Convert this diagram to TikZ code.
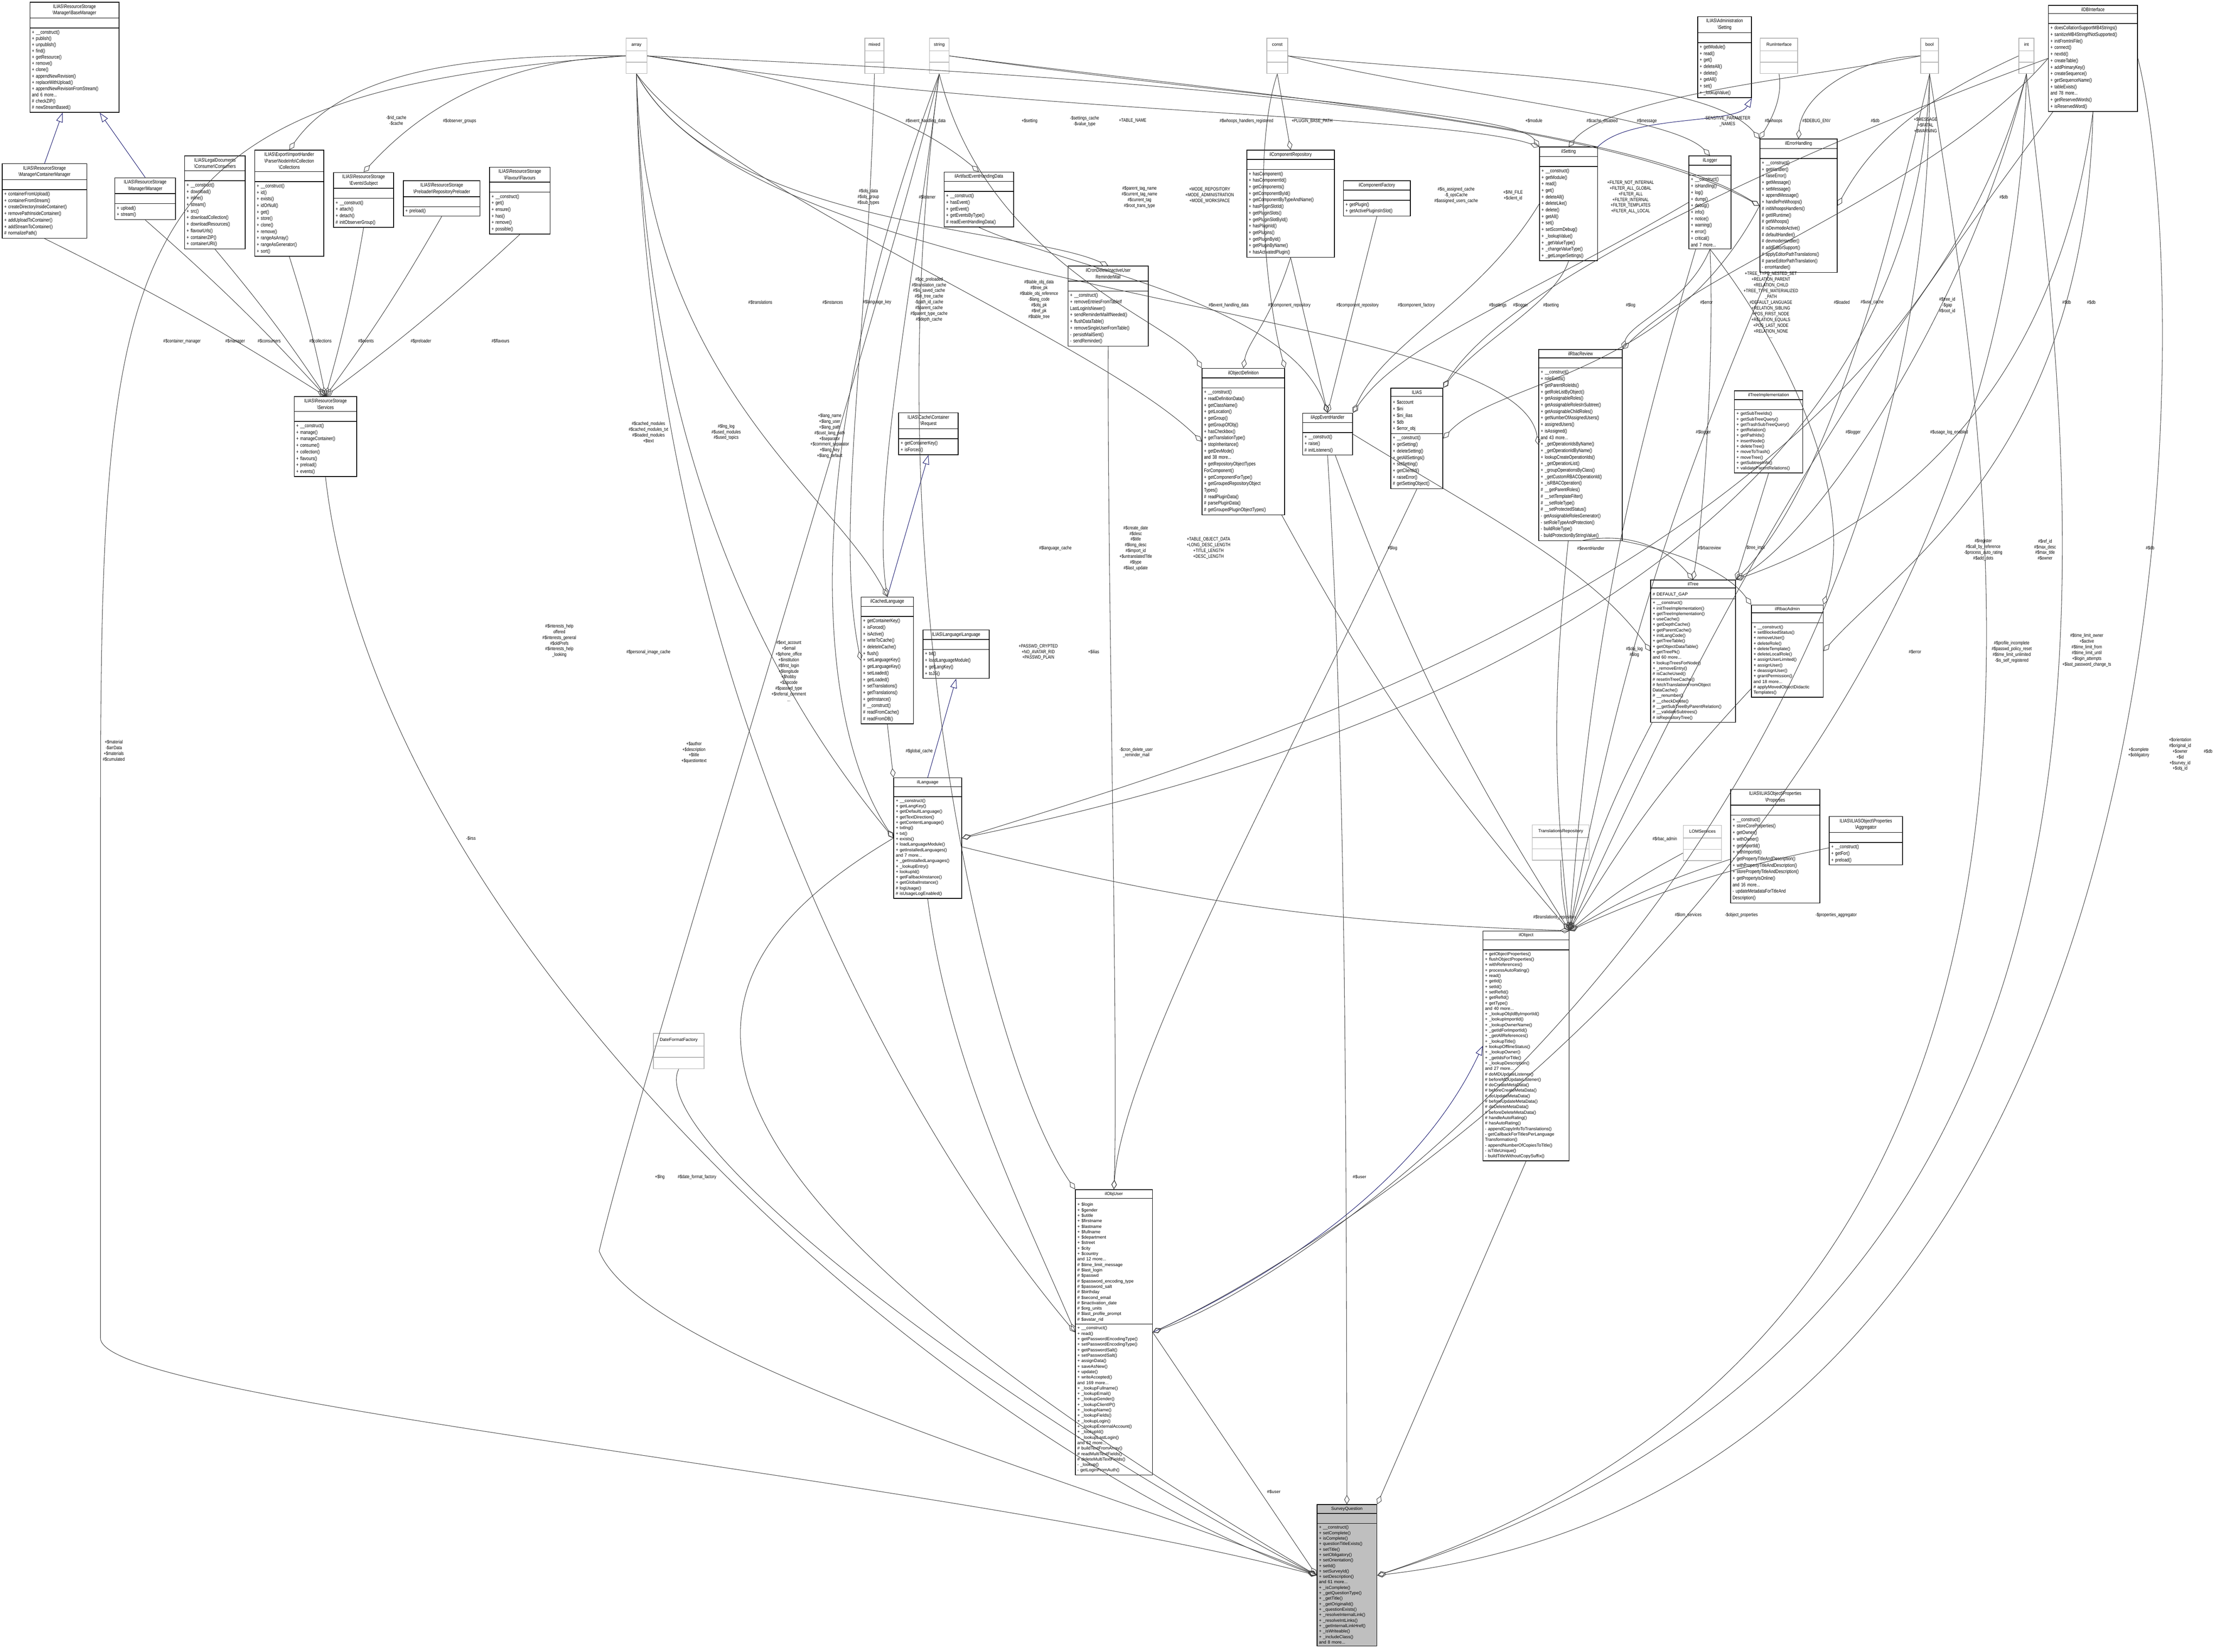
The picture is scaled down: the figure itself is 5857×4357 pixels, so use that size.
\documentclass[tikz,border=0pt]{standalone}
\usepackage{fontspec}
\setmainfont{Liberation Sans}
\newfontfamily\condf[FakeStretch=0.8]{Liberation Sans}
\usetikzlibrary{shapes.multipart,arrows.meta}
\definecolor{edgec}{HTML}{404040}
\definecolor{inhc}{HTML}{191970}
\tikzset{
 clsbox/.style={draw=black,line width=0.5pt,rectangle split,rectangle split parts=3,anchor=north west,inner sep=1.5pt,align=left,font=\fontsize{3.3}{4.1}\selectfont},
 typbox/.style={draw=black!30,line width=0.5pt,rectangle split,rectangle split parts=3,anchor=north west,inner sep=1.5pt,align=center,font=\fontsize{3.3}{4.1}\selectfont},
 agg/.style={draw=edgec,line width=0.35pt,-{Diamond[open,length=7pt,width=4pt]}},
 inh/.style={draw=inhc,line width=0.35pt,-{Triangle[open,length=7pt,width=5pt]}},
 lbl/.style={align=center,inner sep=0pt,font=\fontsize{3.3}{4.1}\selectfont},
 clbl/.style={align=center,inner sep=0pt,font=\condf\fontsize{3.6}{4.3}\selectfont}
}
\newcommand\cls[7][]{\pgfmathsetlengthmacro\tw{#4*0.01cm-3pt}%
 \node[clsbox,text width=\tw,#1] (#2) at (#3) {{\centering #5\par}\nodepart{two}\rule{0pt}{4pt}#6\nodepart{three}#7};}
\newcommand\typ[4]{\pgfmathsetlengthmacro\tw{#3*0.01cm-3pt}%
 \node[typbox,text width=\tw] (#1) at (#2) {#4\rule[-2pt]{0pt}{6pt}\nodepart{two}\rule{0pt}{5pt}\nodepart{three}\rule{0pt}{5pt}};}
\begin{document}
\begin{tikzpicture}[x=0.01cm,y=-0.01cm]
\useasboundingbox (0,0) rectangle (5857,4357);
\fill[white] (0,0) rectangle (5857,4357);
% ---------- top row
\cls[font=\condf\fontsize{3.8}{4.7}\selectfont]{bm}{78,5}{235}{ILIAS\textbackslash ResourceStorage\\\textbackslash Manager\textbackslash BaseManager}{}{+ \_\_construct()\\+ publish()\\+ unpublish()\\+ find()\\+ getResource()\\+ remove()\\+ clone()\\+ appendNewRevision()\\+ replaceWithUpload()\\+ appendNewRevisionFromStream()\\and 6 more...\\\# checkZIP()\\\# newStreamBased()}
\cls[font=\condf\fontsize{3.8}{4.9}\selectfont]{cm}{5,431}{223}{ILIAS\textbackslash ResourceStorage\\\textbackslash Manager\textbackslash ContainerManager}{}{+ containerFromUpload()\\+ containerFromStream()\\+ createDirectoryInsideContainer()\\+ removePathInsideContainer()\\+ addUploadToContainer()\\+ addStreamToContainer()\\\# normalizePath()}
\cls[font=\condf\fontsize{3.8}{4.9}\selectfont]{mgr}{302,468}{160}{ILIAS\textbackslash ResourceStorage\\\textbackslash Manager\textbackslash Manager}{}{+ upload()\\+ stream()}
\cls[font=\condf\fontsize{3.8}{4.9}\selectfont]{cons}{486,410}{160}{ILIAS\textbackslash LegalDocuments\\\textbackslash Consumer\textbackslash Consumers}{}{+ \_\_construct()\\+ download()\\+ inline()\\+ stream()\\+ src()\\+ downloadCollection()\\+ downloadResources()\\+ flavourUrls()\\+ containerZIP()\\+ containerURI()}
\cls[font=\condf\fontsize{3.8}{4.9}\selectfont]{coll}{671,395}{182}{ILIAS\textbackslash Export\textbackslash ImportHandler\\\textbackslash Parser\textbackslash NodeInfo\textbackslash Collection\\\textbackslash Collections}{}{+ \_\_construct()\\+ id()\\+ exists()\\+ idOrNull()\\+ get()\\+ store()\\+ clone()\\+ remove()\\+ rangeAsArray()\\+ rangeAsGenerator()\\+ sort()}
\cls[font=\condf\fontsize{3.8}{4.9}\selectfont]{subj}{879,454}{158}{ILIAS\textbackslash ResourceStorage\\\textbackslash Events\textbackslash Subject}{}{+ \_\_construct()\\+ attach()\\+ detach()\\\# initObserverGroup()}
\cls[font=\condf\fontsize{3.8}{4.9}\selectfont]{prel}{1063,476}{202}{ILIAS\textbackslash ResourceStorage\\\textbackslash Preloader\textbackslash RepositoryPreloader}{}{+ preload()}
\cls[font=\condf\fontsize{3.8}{4.9}\selectfont]{flav}{1290,440}{160}{ILIAS\textbackslash ResourceStorage\\\textbackslash Flavour\textbackslash Flavours}{}{+ \_\_construct()\\+ get()\\+ ensure()\\+ has()\\+ remove()\\+ possible()}
\cls[font=\condf\fontsize{3.8}{4.9}\selectfont]{svc}{775,1045}{165}{ILIAS\textbackslash ResourceStorage\\\textbackslash Services}{}{+ \_\_construct()\\+ manage()\\+ manageContainer()\\+ consume()\\+ collection()\\+ flavours()\\+ preload()\\+ events()}
\typ{arr}{1650,100}{55}{array}
\typ{mix}{2280,100}{50}{mixed}
\typ{str}{2450,100}{52}{string}
\typ{cst}{3340,100}{55}{const}
\typ{run}{4641,100}{99}{RunInterface}
\typ{bool}{5064,100}{47}{bool}
\typ{int}{5323,100}{40}{int}
\cls[font=\condf\fontsize{3.8}{4.9}\selectfont]{adms}{4476,43}{142}{ILIAS\textbackslash Administration\\\textbackslash Setting}{}{+ getModule()\\+ read()\\+ get()\\+ deleteAll()\\+ delete()\\+ getAll()\\+ set()\\+ \_lookupValue()}
\cls[font=\condf\fontsize{3.8}{4.9}\selectfont]{dbi}{5401,13}{235}{ilDBInterface}{}{+ doesCollationSupportMB4Strings()\\+ sanitizeMB4StringIfNotSupported()\\+ initFromIniFile()\\+ connect()\\+ nextId()\\+ createTable()\\+ addPrimaryKey()\\+ createSequence()\\+ getSequenceName()\\+ tableExists()\\and 78 more...\\+ getReservedWords()\\+ isReservedWord()}
\cls[font=\condf\fontsize{3.8}{4.9}\selectfont]{errh}{4640,366}{204}{ilErrorHandling}{}{+ \_\_construct()\\+ getHandler()\\+ raiseError()\\+ getMessage()\\+ setMessage()\\+ appendMessage()\\+ handlePreWhoops()\\\# initWhoopsHandlers()\\\# getIlRuntime()\\\# getWhoops()\\\# isDevmodeActive()\\\# defaultHandler()\\\# devmodeHandler()\\\# addEditorSupport()\\\# applyEditorPathTranslations()\\\# parseEditorPathTranslation()\\- errorHandler()}
\cls[font=\condf\fontsize{3.8}{4.9}\selectfont]{log}{4453,410}{111}{ilLogger}{}{+ \_\_construct()\\+ isHandling()\\+ log()\\+ dump()\\+ debug()\\+ info()\\+ notice()\\+ warning()\\+ error()\\+ critical()\\and 7 more...}
\cls[font=\condf\fontsize{3.8}{4.9}\selectfont]{ilset}{4059,387}{153}{ilSetting}{}{+ \_\_construct()\\+ getModule()\\+ read()\\+ get()\\+ deleteAll()\\+ deleteLike()\\+ delete()\\+ getAll()\\+ set()\\+ setScormDebug()\\+ \_lookupValue()\\+ \_getValueType()\\+ \_changeValueType()\\+ \_getLongerSettings()}
\cls[font=\condf\fontsize{3.8}{4.9}\selectfont]{crep}{3287,395}{231}{ilComponentRepository}{}{+ hasComponent()\\+ hasComponentId()\\+ getComponents()\\+ getComponentById()\\+ getComponentByTypeAndName()\\+ hasPluginSlotId()\\+ getPluginSlots()\\+ getPluginSlotById()\\+ hasPluginId()\\+ getPlugins()\\+ getPluginById()\\+ getPluginByName()\\+ hasActivatedPlugin()}
\cls[font=\condf\fontsize{3.8}{4.9}\selectfont]{cfac}{3542,476}{176}{ilComponentFactory}{}{+ getPlugin()\\+ getActivePluginsInSlot()}
\cls[font=\condf\fontsize{3.8}{4.9}\selectfont]{art}{2489,453}{183}{ilArtifactEventHandingData}{}{+ \_\_construct()\\+ hasEvent()\\+ getEvent()\\+ getEventsByType()\\\# readEventHandlingData()}
\cls[font=\condf\fontsize{3.8}{4.9}\selectfont]{cron}{2816,701}{211}{ilCronDeleteInactiveUser\\ReminderMail}{}{+ \_\_construct()\\+ removeEntriesFromTableIf\\LastLoginIsNewer()\\+ sendReminderMailIfNeeded()\\+ flushDataTable()\\+ removeSingleUserFromTable()\\- persistMailSent()\\- sendReminder()}
\cls[font=\condf\fontsize{3.8}{4.9}\selectfont]{odef}{3169,971}{218}{ilObjectDefinition}{}{+ \_\_construct()\\+ readDefinitionData()\\+ getClassName()\\+ getLocation()\\+ getGroup()\\+ getGroupOfObj()\\+ hasCheckbox()\\+ getTranslationType()\\+ stopInheritance()\\+ getDevMode()\\and 38 more...\\+ getRepositoryObjectTypes\\ForComponent()\\+ getComponentForType()\\+ getGroupedRepositoryObject\\Types()\\\# readPluginData()\\\# parsePluginData()\\\# getGroupedPluginObjectTypes()}
\cls[font=\condf\fontsize{3.8}{4.9}\selectfont]{aeh}{3434,1089}{132}{ilAppEventHandler}{}{+ \_\_construct()\\+ raise()\\\# initListeners()}
\cls[font=\condf\fontsize{3.8}{4.9}\selectfont]{ilias}{3667,1023}{137}{ILIAS}{+ \$account\\+ \$ini\\+ \$ini\_ilias\\+ \$db\\+ \$error\_obj}{+ \_\_construct()\\+ getSetting()\\+ deleteSetting()\\+ getAllSettings()\\+ setSetting()\\+ getClientId()\\+ raiseError()\\\# getSettingObject()}
\cls[font=\condf\fontsize{3.8}{4.9}\selectfont]{rrev}{4057,921}{220}{ilRbacReview}{}{+ \_\_construct()\\+ roleExists()\\+ getParentRoleIds()\\+ getRoleListByObject()\\+ getAssignableRoles()\\+ getAssignableRolesInSubtree()\\+ getAssignableChildRoles()\\+ getNumberOfAssignedUsers()\\+ assignedUsers()\\+ isAssigned()\\and 43 more...\\+ \_getOperationIdsByName()\\+ \_getOperationIdByName()\\+ lookupCreateOperationIds()\\+ \_getOperationList()\\+ \_groupOperationsByClass()\\+ \_getCustomRBACOperationId()\\+ \_isRBACOperation()\\\# \_\_getParentRoles()\\\# \_\_setTemplateFilter()\\\# \_\_setRoleType()\\\# \_\_setProtectedStatus()\\- getAssignableRolesGenerator()\\- setRoleTypeAndProtection()\\- buildRoleType()\\- buildProtectionByStringValue()}
\cls{timpl}{4573,1030}{180}{ilTreeImplementation}{}{+ getSubTreeIds()\\+ getSubTreeQuery()\\+ getTrashSubTreeQuery()\\+ getRelation()\\+ getPathIds()\\+ insertNode()\\+ deleteTree()\\+ moveToTrash()\\+ moveTree()\\+ getSubtreeInfo()\\+ validateParentRelations()}
\cls{tree}{4352,1529}{224}{ilTree}{\# DEFAULT\_GAP}{+ \_\_construct()\\+ initTreeImplementation()\\+ getTreeImplementation()\\+ useCache()\\+ getDepthCache()\\+ getParentCache()\\+ initLangCode()\\+ getTreeTable()\\+ getObjectDataTable()\\+ getTreePk()\\and 60 more...\\+ lookupTreesForNode()\\+ \_removeEntry()\\\# isCacheUsed()\\\# resetInTreeCache()\\\# fetchTranslationFromObject\\DataCache()\\\# \_\_renumber()\\\# \_\_checkDelete()\\\# \_\_getSubTreeByParentRelation()\\\# \_\_validateSubtrees()\\\# isRepositoryTree()}
\cls{radm}{4618,1595}{189}{ilRbacAdmin}{}{+ \_\_construct()\\+ setBlockedStatus()\\+ removeUser()\\+ deleteRole()\\+ deleteTemplate()\\+ deleteLocalRole()\\+ assignUserLimited()\\+ assignUser()\\+ deassignUser()\\+ grantPermission()\\and 18 more...\\\# applyMovedObjectDidactic\\Templates()}
\cls[font=\condf\fontsize{3.8}{4.9}\selectfont]{req}{2369,1088}{157}{ILIAS\textbackslash Cache\textbackslash Container\\\textbackslash Request}{}{+ getContainerKey()\\+ isForced()}
\cls[font=\condf\fontsize{3.8}{4.9}\selectfont]{clang}{2270,1574}{138}{ilCachedLanguage}{}{+ getContainerKey()\\+ isForced()\\+ isActive()\\+ writeToCache()\\+ deleteInCache()\\+ flush()\\+ setLanguageKey()\\+ getLanguageKey()\\+ setLoaded()\\+ getLoaded()\\+ setTranslations()\\+ getTranslations()\\+ getInstance()\\\# \_\_construct()\\\# readFromCache()\\\# readFromDB()}
\cls[font=\condf\fontsize{3.8}{4.9}\selectfont]{llang}{2433,1661}{175}{ILIAS\textbackslash Language\textbackslash Language}{}{+ txt()\\+ loadLanguageModule()\\+ getLangKey()\\+ toJS()}
\cls{ilang}{2356,2051}{179}{ilLanguage}{}{+ \_\_construct()\\+ getLangKey()\\+ getDefaultLanguage()\\+ getTextDirection()\\+ getContentLanguage()\\+ txtlng()\\+ txt()\\+ exists()\\+ loadLanguageModule()\\+ getInstalledLanguages()\\and 7 more...\\+ \_getInstalledLanguages()\\+ \_lookupEntry()\\+ lookupId()\\+ getFallbackInstance()\\+ getGlobalInstance()\\\# logUsage()\\\# isUsageLogEnabled()}
\cls[font=\condf\fontsize{3.8}{4.9}\selectfont]{props}{4563,2081}{235}{ILIAS\textbackslash ILIASObject\textbackslash Properties\\\textbackslash Properties}{}{+ \_\_construct()\\+ storeCoreProperties()\\+ getOwner()\\+ withOwner()\\+ getImportId()\\+ withImportId()\\+ getPropertyTitleAndDescription()\\+ withPropertyTitleAndDescription()\\+ storePropertyTitleAndDescription()\\+ getPropertyIsOnline()\\and 16 more...\\- updateMetadataForTitleAnd\\Description()}
\cls[font=\condf\fontsize{3.8}{4.9}\selectfont]{aggr}{4823,2153}{193}{ILIAS\textbackslash ILIASObject\textbackslash Properties\\\textbackslash Aggregator}{}{+ \_\_construct()\\+ getFor()\\+ preload()}
\typ{lom}{4438,2176}{101}{LOMServices}
\typ{trans}{4040,2175}{150}{TranslationsRepository}
\typ{dff}{1722,2725}{134}{DateFormatFactory}
\cls{obj}{3910,2455}{227}{ilObject}{}{+ getObjectProperties()\\+ flushObjectProperties()\\+ withReferences()\\+ processAutoRating()\\+ read()\\+ getId()\\+ setId()\\+ setRefId()\\+ getRefId()\\+ getType()\\and 40 more...\\+ \_lookupObjIdByImportId()\\+ \_lookupImportId()\\+ \_lookupOwnerName()\\+ \_getIdForImportId()\\+ \_getAllReferences()\\+ \_lookupTitle()\\+ lookupOfflineStatus()\\+ \_lookupOwner()\\+ \_getIdsForTitle()\\+ \_lookupDescription()\\and 27 more...\\\# doMDUpdateListener()\\\# beforeMDUpdateListener()\\\# doCreateMetaData()\\\# beforeCreateMetaData()\\\# doUpdateMetaData()\\\# beforeUpdateMetaData()\\\# doDeleteMetaData()\\\# beforeDeleteMetaData()\\\# handleAutoRating()\\\# hasAutoRating()\\- appendCopyInfoToTranslations()\\- getCallbackForTitlesPerLanguage\\Transformation()\\- appendNumberOfCopiesToTitle()\\- isTitleUnique()\\- buildTitleWithoutCopySuffix()}
\cls{ouser}{2835,3137}{203}{ilObjUser}{+ \$login\\+ \$gender\\+ \$utitle\\+ \$firstname\\+ \$lastname\\+ \$fullname\\+ \$department\\+ \$street\\+ \$city\\+ \$country\\and 12 more...\\\# \$time\_limit\_message\\\# \$last\_login\\\# \$passwd\\\# \$password\_encoding\_type\\\# \$password\_salt\\\# \$birthday\\\# \$second\_email\\\# \$inactivation\_date\\\# \$org\_units\\\# \$last\_profile\_prompt\\\# \$avatar\_rid}{+ \_\_construct()\\+ read()\\+ getPasswordEncodingType()\\+ setPasswordEncodingType()\\+ getPasswordSalt()\\+ setPasswordSalt()\\+ assignData()\\+ saveAsNew()\\+ update()\\+ writeAccepted()\\and 169 more...\\+ \_lookupFullname()\\+ \_lookupEmail()\\+ \_lookupGender()\\+ \_lookupClientIP()\\+ \_lookupName()\\+ \_lookupFields()\\+ \_lookupLogin()\\+ \_lookupExternalAccount()\\+ \_lookupId()\\+ \_lookupLastLogin()\\and 62 more...\\\# buildTextFromArray()\\\# readMultiTextFields()\\\# deleteMultiTextFields()\\- \_lookup()\\- getLoginFromAuth()}
\cls[fill=black!25]{sq}{3472,3968}{158}{SurveyQuestion}{}{+ \_\_construct()\\+ setComplete()\\+ isComplete()\\+ questionTitleExists()\\+ setTitle()\\+ setObligatory()\\+ setOrientation()\\+ setId()\\+ setSurveyId()\\+ setDescription()\\and 61 more...\\+ \_isComplete()\\+ \_getQuestionType()\\+ \_getTitle()\\+ \_getOriginalId()\\+ \_questionExists()\\+ \_resolveInternalLink()\\+ \_resolveIntLinks()\\+ \_getInternalLinkHref()\\+ \_isWriteable()\\+ \_includeClass()\\and 8 more...}
% ---------- inheritance
\draw[inh] (cm.north) -- (bm.south -| 165,0);
\draw[inh] (mgr.north) -- (bm.south -| 263,0);
\draw[inh] (ilset.north east) .. controls (4300,300) and (4580,330) .. (adms.south east);
\draw[inh] (clang.north) -- (req.south);
\draw[inh] (ilang.north) -- (llang.south);
\draw[inh] (ouser.east) .. controls (3400,3350) and (3750,3100) .. (obj.west);
% ---------- aggregations to Services
\foreach \s in {cm,mgr,cons,coll,subj,prel,flav} \draw[agg] (\s.south) to[bend left=3] (svc.north);
\draw[agg] (arr.west) .. controls (1200,140) and (900,200) .. (coll.north);
\draw[agg] (arr.west) .. controls (1300,160) and (1100,300) .. (subj.north);
% ---------- to SurveyQuestion
\draw[agg] (arr.west) .. controls (300,250) and (265,600) .. (265,2200) -- (265,3530) .. controls (270,3700) and (2500,3900) .. (sq.west);
\draw[agg] (svc.south) .. controls (1000,2500) and (2500,3800) .. (sq.west);
\draw[agg] (str.south) .. controls (2300,900) and (1700,2800) .. (1580,3300) .. controls (1700,3600) and (3000,3950) .. (sq.west);
\draw[agg] (ilang.west) .. controls (1700,2600) and (1700,3100) .. (sq.west);
\draw[agg] (dff.south) .. controls (1700,3000) and (2600,3700) .. (sq.west);
\draw[agg] (ouser.east) -- (sq.west);
\draw[agg] (aeh.south) .. controls (3550,2000) and (3550,3000) .. (sq.north);
\draw[agg] (dbi.east) .. controls (5800,800) and (5820,3900) .. (sq.east);
\draw[agg] (bool.south) .. controls (5300,1500) and (5580,3500) .. (sq.east);
\draw[agg] (int.south) .. controls (5500,1500) and (5720,3500) .. (sq.east);
\draw[agg] (obj.south) -- (sq.north east);
% ---------- to ilObject
\foreach \s in {tree,radm,props,aggr,lom,trans,odef,aeh,log,ilang,errh,dbi,rrev} \draw[agg] (\s) to[bend right=6] (obj.north east);
% ---------- to ilObjUser
\draw[agg] (cron.south) .. controls (2920,1500) and (2950,2800) .. (ouser.north);
\draw[agg] (ilias.south) .. controls (3400,2000) and (2960,2800) .. (ouser.north);
\draw[agg] (str.south) .. controls (2300,1500) and (2600,2800) .. (ouser.north west);
\draw[agg] (arr.south) .. controls (1700,1800) and (2400,3000) .. (ouser.west);
\draw[agg] (ilang.south) .. controls (2500,2800) and (2700,3200) .. (ouser.west);
\draw[agg] (int.south) .. controls (5300,2200) and (3500,3300) .. (ouser.east);
\draw[agg] (bool.south) .. controls (5100,2200) and (3500,3350) .. (ouser.east);
% ---------- to ilTree
\draw[agg] (timpl.south) -- (tree.north east);
\draw[agg] (rrev.south) .. controls (4300,1400) and (4400,1450) .. (tree.north);
\draw[agg] (log.south) .. controls (4520,900) and (4500,1300) .. (tree.north);
\draw[agg] (dbi.south) .. controls (5400,1200) and (4800,1450) .. (tree.north east);
\draw[agg] (aeh.east) .. controls (3900,1350) and (4200,1500) .. (tree.west);
\draw[agg] (int.south) .. controls (5200,800) and (4800,1400) .. (tree.north east);
\draw[agg] (bool.south) .. controls (4950,800) and (4800,1300) .. (tree.north east);
% ---------- to ilRbacAdmin
\draw[agg] (log.south) .. controls (4700,900) and (4900,1300) .. (radm.north east);
\draw[agg] (rrev.south east) .. controls (4400,1450) and (4550,1500) .. (radm.north west);
\draw[agg] (dbi.south) .. controls (5500,1200) and (5000,1500) .. (radm.east);
% ---------- ILIAS
\draw[agg] (ilset.south) .. controls (4100,800) and (3900,900) .. (ilias.north east);
\draw[agg] (dbi.west) .. controls (5000,300) and (4000,700) .. (ilias.north east);
\draw[agg] (errh.west) .. controls (4400,1000) and (3950,1000) .. (ilias.east);
% ---------- AppEventHandler
\draw[agg] (crep.south) -- (aeh.north);
\draw[agg] (cfac.south) -- (aeh.north);
\draw[agg] (art.south) .. controls (2800,700) and (3400,800) .. (aeh.north);
\draw[agg] (log.west) .. controls (4000,800) and (3700,900) .. (aeh.north east);
\draw[agg] (ilset.west) .. controls (3900,800) and (3650,900) .. (aeh.north east);
% ---------- ilObjectDefinition
\draw[agg] (crep.south) .. controls (3350,850) and (3290,900) .. (odef.north);
\draw[agg] (arr.south) .. controls (1900,500) and (2900,900) .. (odef.west);
\draw[agg] (str.south) .. controls (2600,700) and (3100,850) .. (odef.north west);
\draw[agg] (cst.south) .. controls (3300,400) and (3340,800) .. (odef.north east);
% ---------- top types to classes
\draw[agg] (cst.south) -- (crep.north);
\draw[agg] (cst.east) .. controls (3900,200) and (4500,200) .. (errh.north west);
\draw[agg] (run.south) .. controls (4700,250) and (4680,300) .. (errh.north west);
\draw[agg] (bool.west) .. controls (4900,150) and (4750,250) .. (errh.north);
\draw[agg] (int.west) .. controls (5100,250) and (4950,350) .. (errh.east);
\draw[agg] (arr.east) .. controls (3000,200) and (4200,300) .. (errh.west);
\draw[agg] (str.east) .. controls (3300,250) and (4300,330) .. (errh.west);
\draw[agg] (str.east) .. controls (3300,260) and (4000,300) .. (ilset.north west);
\draw[agg] (bool.west) .. controls (4800,200) and (4250,250) .. (ilset.north);
\draw[agg] (arr.east) .. controls (2600,300) and (3800,300) .. (ilset.north west);
\draw[agg] (cst.east) .. controls (3800,250) and (4400,300) .. (log.north);
\draw[agg] (arr.east) .. controls (2100,200) and (2400,300) .. (art.north);
\draw[agg] (arr.south) .. controls (1900,600) and (2700,600) .. (cron.north);
\draw[agg] (arr.south) .. controls (2000,800) and (4000,800) .. (rrev.west);
\draw[agg] (dbi.west) .. controls (5100,500) and (4500,700) .. (rrev.north east);
\draw[agg] (log.south) .. controls (4450,800) and (4300,850) .. (rrev.north east);
% ---------- language
\draw[agg] (arr.south) .. controls (1700,1000) and (2200,1300) .. (clang.north);
\draw[agg] (str.south) .. controls (2400,800) and (2300,1300) .. (clang.north);
\draw[agg] (mix.south) .. controls (2290,900) and (2200,1400) .. (clang.west);
\draw[agg] (clang.south) -- (ilang.north west);
\draw[agg] (arr.south) .. controls (1700,1300) and (2100,1900) .. (ilang.west);
\draw[agg] (str.south) .. controls (2100,1200) and (2150,1900) .. (ilang.west);
\draw[agg] (int.south) .. controls (5000,1500) and (3200,2000) .. (ilang.east);
\draw[agg] (bool.south) .. controls (5050,1600) and (3300,2050) .. (ilang.east);
% ---------- labels
\node[clbl] at (1045,318) {-\$rid\_cache\\-\$cache};
\node[clbl] at (1212,319) {\#\$observer\_groups};
\node[clbl] at (480,900) {\#\$container\_manager};
\node[clbl] at (620,900) {\#\$manager};
\node[clbl] at (710,900) {\#\$consumers};
\node[clbl] at (845,900) {\#\$collections};
\node[clbl] at (965,900) {\#\$events};
\node[clbl] at (1110,900) {\#\$preloader};
\node[clbl] at (1320,900) {\#\$flavours};
\node[clbl] at (2441,319) {\#\$event\_handling\_data};
\node[clbl] at (2715,319) {+\$setting};
\node[clbl] at (2860,320) {-\$settings\_cache\\-\$value\_type};
\node[clbl] at (2987,319) {+TABLE\_NAME};
\node[clbl] at (3287,319) {\#\$whoops\_handlers\_registered};
\node[clbl] at (3460,319) {+PLUGIN\_BASE\_PATH};
\node[clbl] at (4045,319) {+\$module};
\node[clbl] at (4225,319) {\#\$cache\_disabled};
\node[clbl] at (4343,319) {\#\$message};
\node[clbl] at (4555,320) {-SENSTIVE\_PARAMETER\\\_NAMES};
\node[clbl] at (4677,319) {\#\$whoops};
\node[clbl] at (4790,319) {\#\$DEBUG\_ENV};
\node[clbl] at (4945,319) {\#\$db};
\node[clbl] at (5078,330) {+\$MESSAGE\\+\$FATAL\\+\$WARNING};
\node[clbl] at (5284,520) {\#\$db};
\node[clbl] at (2290,520) {\#\$obj\_data\\\#\$obj\_group\\\#\$sub\_types};
\node[clbl] at (2445,520) {\#\$listener};
\node[clbl] at (3005,520) {\#\$parent\_tag\_name\\\#\$current\_tag\_name\\\#\$current\_tag\\\#\$root\_trans\_type};
\node[clbl] at (3190,515) {+MODE\_REPOSITORY\\+MODE\_ADMINISTRATION\\+MODE\_WORKSPACE};
\node[clbl] at (3840,515) {\#\$is\_assigned\_cache\\-\$\_opsCache\\\#\$assigned\_users\_cache};
\node[clbl] at (3990,515) {+\$INI\_FILE\\+\$client\_id};
\node[clbl] at (4300,520) {+FILTER\_NOT\_INTERNAL\\+FILTER\_ALL\_GLOBAL\\+FILTER\_ALL\\+FILTER\_INTERNAL\\+FILTER\_TEMPLATES\\+FILTER\_ALL\_LOCAL};
\node[clbl] at (2005,797) {\#\$translations};
\node[clbl] at (2196,797) {\#\$instances};
\node[clbl] at (2313,797) {\#\$language\_key};
\node[clbl] at (2450,790) {\#\$pc\_preloaded\\\#\$translation\_cache\\\#\$is\_saved\_cache\\\#\$in\_tree\_cache\\-\$path\_id\_cache\\\#\$parent\_cache\\\#\$parent\_type\_cache\\\#\$depth\_cache};
\node[clbl] at (2740,790) {\#\$table\_obj\_data\\\#\$tree\_pk\\\#\$table\_obj\_reference\\-\$lang\_code\\\#\$obj\_pk\\\#\$ref\_pk\\\#\$table\_tree};
\node[clbl] at (3240,805) {\#\$event\_handling\_data};
\node[clbl] at (3400,805) {\#\$component\_repository};
\node[clbl] at (3580,805) {\#\$component\_repository};
\node[clbl] at (3735,805) {\#\$component\_factory};
\node[clbl] at (3950,805) {\#\$settings};
\node[clbl] at (4010,805) {\#\$logger};
\node[clbl] at (4090,805) {\#\$setting};
\node[clbl] at (4300,805) {\#\$log};
\node[clbl] at (4500,797) {\#\$error};
\node[clbl] at (4670,805) {+TREE\_TYPE\_NESTED\_SET\\+RELATION\_PARENT\\+RELATION\_CHILD\\+TREE\_TYPE\_MATERIALIZED\\\_PATH\\\#DEFAULT\_LANGUAGE\\+RELATION\_SIBLING\\+POS\_FIRST\_NODE\\+RELATION\_EQUALS\\+POS\_LAST\_NODE\\+RELATION\_NONE\\...};
\node[clbl] at (4857,797) {\#\$loaded};
\node[clbl] at (4937,797) {\#\$use\_cache};
\node[clbl] at (5135,805) {\#\$tree\_id\\-\$gap\\\#\$root\_id};
\node[clbl] at (5450,797) {\#\$db};
\node[clbl] at (5515,797) {\#\$db};
\node[clbl] at (1710,1140) {\#\$cached\_modules\\\#\$cached\_modules\_txt\\\#\$loaded\_modules\\+\$text};
\node[clbl] at (1915,1140) {\#\$lng\_log\\\#\$used\_modules\\\#\$used\_topics};
\node[clbl] at (2188,1150) {+\$lang\_name\\+\$lang\_user\\+\$lang\_path\\\#\$cust\_lang\_path\\+\$separator\\+\$comment\_separator\\+\$lang\_key\\+\$lang\_default};
\node[clbl] at (4492,1140) {\#\$logger};
\node[clbl] at (4887,1140) {\#\$logger};
\node[clbl] at (5140,1140) {\#\$usage\_log\_enabled};
\node[clbl] at (2995,1446) {\#\$create\_date\\\#\$desc\\\#\$title\\\#\$long\_desc\\\#\$import\_id\\+\$untranslatedTitle\\\#\$type\\\#\$last\_update};
\node[clbl] at (3187,1446) {+TABLE\_OBJECT\_DATA\\+LONG\_DESC\_LENGTH\\+TITLE\_LENGTH\\+DESC\_LENGTH};
\node[clbl] at (2783,1446) {\#\$language\_cache};
\node[clbl] at (3672,1446) {\#\$log};
\node[clbl] at (4195,1446) {\#\$eventHandler};
\node[clbl] at (4508,1445) {\#\$rbacreview};
\node[clbl] at (4628,1445) {-\$tree\_impl};
\node[clbl] at (5230,1450) {\#\$register\\\#\$call\_by\_reference\\-\$process\_auto\_rating\\\#\$add\_dots};
\node[clbl] at (5393,1450) {\#\$ref\_id\\\#\$max\_desc\\\#\$max\_title\\\#\$owner};
\node[clbl] at (5670,1445) {\#\$db};
\node[clbl] at (1475,1690) {\#\$interests\_help\\offered\\\#\$interests\_general\\\#\$oldPrefs\\\#\$interests\_help\\\_looking};
\node[clbl] at (1710,1720) {\#\$personal\_image\_cache};
\node[clbl] at (2080,1770) {\#\$ext\_account\\+\$email\\+\$phone\_office\\+\$institution\\\#\$first\_login\\+\$longitude\\+\$hobby\\+\$zipcode\\\#\$passwd\_type\\+\$referral\_comment\\...};
\node[clbl] at (2738,1720) {+PASSWD\_CRYPTED\\+NO\_AVATAR\_RID\\+PASSWD\_PLAIN};
\node[clbl] at (2884,1720) {+\$ilias};
\node[clbl] at (4310,1720) {\#\$obj\_log\\\#\$log};
\node[clbl] at (5050,1720) {\#\$error};
\node[clbl] at (5305,1720) {\#\$profile\_incomplete\\\#\$passwd\_policy\_reset\\\#\$time\_limit\_unlimited\\-\$is\_self\_registered};
\node[clbl] at (5503,1715) {\#\$time\_limit\_owner\\+\$active\\\#\$time\_limit\_from\\\#\$time\_limit\_until\\+\$login\_attempts\\+\$last\_password\_change\_ts};
\node[clbl] at (300,1980) {+\$material\\-\$arrData\\+\$materials\\\#\$cumulated};
\node[clbl] at (1830,1985) {+\$author\\+\$description\\+\$title\\+\$questiontext};
\node[clbl] at (2424,1981) {\#\$global\_cache};
\node[clbl] at (2996,1985) {-\$cron\_delete\_user\\\_reminder\_mail};
\node[clbl] at (5640,1985) {+\$complete\\+\$obligatory};
\node[clbl] at (5749,1990) {+\$orientation\\\#\$original\_id\\+\$owner\\+\$id\\+\$survey\_id\\+\$obj\_id};
\node[clbl] at (5823,1982) {\#\$db};
\node[clbl] at (1242,2212) {-\$irss};
\node[clbl] at (4390,2213) {\#\$rbac\_admin};
\node[clbl] at (4452,2414) {\#\$lom\_services};
\node[clbl] at (4592,2414) {-\$object\_properties};
\node[clbl] at (4842,2414) {-\$properties\_aggregator};
\node[clbl] at (4100,2420) {\#\$translations\_repository};
\node[clbl] at (1740,3105) {+\$lng};
\node[clbl] at (1838,3105) {\#\$date\_format\_factory};
\node[lbl] at (3359,3935) {\#\$user};
\node[lbl] at (3585,3104) {\#\$user};
\end{tikzpicture}
\end{document}
